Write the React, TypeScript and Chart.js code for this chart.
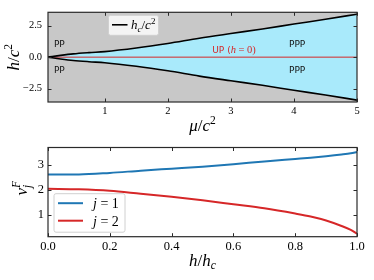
import React, { useEffect, useRef } from 'react';
import { Chart, registerables } from 'chart.js';
Chart.register(...registerables);

// ---------- data: top panel ----------
const muValues = [0.1, 0.3, 0.5, 0.75, 1.0, 1.5, 2.0, 2.5, 3.0, 3.5, 4.0, 4.5, 5.0];
const hcValues = [0.0, 0.14, 0.26, 0.36, 0.44, 0.72, 1.08, 1.5, 1.87, 2.23, 2.62, 3.0, 3.4];
const muTicks = [1, 2, 3, 4, 5];
const hTicks = [-2.5, 0, 2.5];
const muMin = 0.1;
const muMax = 5;
const hMin = -3.55;
const hMax = 3.55;
const regionLabels = [
  { text: 'PP', x: 0.28, y: 0.95 },
  { text: 'PP', x: 0.28, y: -1.03 },
  { text: 'PPP', x: 4.05, y: 0.95 },
  { text: 'PPP', x: 4.05, y: -1.03 },
];
const upLabel = { x: 3.05, y: 0.62 };

// ---------- data: bottom panel ----------
const hRatio = [0, 0.1, 0.2, 0.3, 0.4, 0.5, 0.6, 0.7, 0.8, 0.85, 0.9, 0.95, 0.98, 1.0];
const vF1 = [2.63, 2.63, 2.69, 2.78, 2.86, 2.94, 3.04, 3.15, 3.25, 3.3, 3.36, 3.43, 3.48, 3.53];
const vF2 = [2.05, 2.03, 1.97, 1.85, 1.73, 1.59, 1.43, 1.27, 1.06, 0.94, 0.78, 0.56, 0.4, 0.25];
const ratioTicks = [0, 0.2, 0.4, 0.6, 0.8, 1.0];
const vTicks = [1, 2, 3];
const vMin = 0.13;
const vMax = 3.71;

const SERIF = '"Liberation Serif", "DejaVu Serif", serif';
const SANS = '"DejaVu Sans", sans-serif';
const BLUE = '#1f77b4';
const RED = '#d62728';
const GRAY = '#c8c8c8';
const CYAN = '#a9eafb';

type Run = { t: string; size: number; italic?: boolean; dy?: number; dx?: number; family?: string; color?: string; noAdv?: boolean };

function fontOf(r: Run) {
  return `${r.italic ? 'italic ' : ''}${r.size}px ${r.family || SERIF}`;
}

function drawRuns(ctx: CanvasRenderingContext2D, runs: Run[], x: number, y: number, align: 'center' | 'left') {
  ctx.save();
  ctx.textAlign = 'left';
  ctx.textBaseline = 'alphabetic';
  let w = 0;
  for (const r of runs) {
    ctx.font = fontOf(r);
    if (!r.noAdv) w += ctx.measureText(r.t).width + (r.dx || 0);
  }
  let cx = align === 'center' ? x - w / 2 : x;
  for (const r of runs) {
    ctx.font = fontOf(r);
    ctx.fillStyle = r.color || '#000';
    ctx.fillText(r.t, cx + (r.dx || 0), y + (r.dy || 0));
    if (!r.noAdv) cx += ctx.measureText(r.t).width + (r.dx || 0);
  }
  ctx.restore();
}

function frameTicksPlugin(xTicks: number[], yTicks: number[]) {
  return {
    id: 'frameTicks',
    afterDraw(chart: any) {
      const { ctx, chartArea } = chart;
      const { left, right, top, bottom } = chartArea;
      const xs = chart.scales.x;
      const ys = chart.scales.y;
      ctx.save();
      ctx.strokeStyle = '#2a2a2a';
      ctx.lineWidth = 1;
      const L = 3.5;
      ctx.beginPath();
      for (const v of xTicks) {
        const p = Math.round(xs.getPixelForValue(v)) + 0.5;
        ctx.moveTo(p, bottom);
        ctx.lineTo(p, bottom - L);
        ctx.moveTo(p, top);
        ctx.lineTo(p, top + L);
      }
      for (const v of yTicks) {
        const p = Math.round(ys.getPixelForValue(v)) + 0.5;
        ctx.moveTo(left, p);
        ctx.lineTo(left + L, p);
        ctx.moveTo(right, p);
        ctx.lineTo(right - L, p);
      }
      ctx.stroke();
      ctx.lineWidth = 1.2;
      ctx.strokeRect(left, top, right - left, bottom - top);
      ctx.restore();
    },
  };
}

const fmtMinus = (s: string) => s.replace('-', '\u2212');

export default function App() {
  const topRef = useRef<HTMLCanvasElement>(null);
  const botRef = useRef<HTMLCanvasElement>(null);

  useEffect(() => {
    const upper = muValues.map((m, i) => ({ x: m, y: hcValues[i] }));
    const lower = muValues.map((m, i) => ({ x: m, y: -hcValues[i] }));
    const zero = [
      { x: muMin, y: 0 },
      { x: muMax, y: 0 },
    ];

    const topDecor = {
      id: 'topDecor',
      beforeDraw(chart: any) {
        const { ctx, chartArea } = chart;
        ctx.save();
        ctx.fillStyle = GRAY;
        ctx.fillRect(chartArea.left, chartArea.top, chartArea.right - chartArea.left, chartArea.bottom - chartArea.top);
        ctx.restore();
      },
      afterDraw(chart: any) {
        const { ctx, chartArea } = chart;
        const xs = chart.scales.x;
        const ys = chart.scales.y;
        // region labels
        ctx.save();
        ctx.font = `9px ${SANS}`;
        ctx.fillStyle = '#111';
        ctx.textAlign = 'center';
        ctx.textBaseline = 'middle';
        for (const l of regionLabels) {
          ctx.fillText(l.text, xs.getPixelForValue(l.x), ys.getPixelForValue(l.y));
        }
        ctx.restore();
        drawRuns(
          ctx,
          [
            { t: 'UP (', size: 9, family: SANS, color: RED },
            { t: 'h', size: 10.5, italic: true, color: RED },
            { t: ' = 0)', size: 10.5, color: RED },
          ],
          xs.getPixelForValue(upLabel.x),
          ys.getPixelForValue(upLabel.y) + 3.5,
          'center'
        );
        // legend
        const bx = chartArea.left + 60.5;
        const by = chartArea.top + 3;
        ctx.save();
        ctx.fillStyle = 'rgba(255,255,255,0.8)';
        ctx.strokeStyle = '#d0d0d0';
        ctx.lineWidth = 1;
        ctx.beginPath();
        (ctx as any).roundRect(bx, by, 50, 20, 2);
        ctx.fill();
        ctx.stroke();
        ctx.strokeStyle = '#000';
        ctx.lineWidth = 1.6;
        ctx.beginPath();
        ctx.moveTo(bx + 3.5, by + 9.5);
        ctx.lineTo(bx + 19, by + 9.5);
        ctx.stroke();
        ctx.restore();
        drawRuns(
          ctx,
          [
            { t: 'h', size: 13, italic: true },
            { t: 'c', size: 9, italic: true, dy: 2.5 },
            { t: '/', size: 13 },
            { t: 'c', size: 13, italic: true },
            { t: '2', size: 9, dy: -5 },
          ],
          bx + 22.5,
          by + 14,
          'left'
        );
        // axis titles
        drawRuns(
          ctx,
          [
            { t: 'μ', size: 17, italic: true },
            { t: '/', size: 17 },
            { t: 'c', size: 17, italic: true },
            { t: '2', size: 11.5, dy: -7 },
          ],
          (chartArea.left + chartArea.right) / 2,
          131,
          'center'
        );
        ctx.save();
        ctx.translate(19, (chartArea.top + chartArea.bottom) / 2);
        ctx.rotate(-Math.PI / 2);
        drawRuns(
          ctx,
          [
            { t: 'h', size: 17, italic: true },
            { t: '/', size: 17 },
            { t: 'c', size: 17, italic: true },
            { t: '2', size: 11.5, dy: -7 },
          ],
          0,
          0,
          'center'
        );
        ctx.restore();
      },
    };

    const c1 = new Chart(topRef.current!, {
      type: 'line',
      data: {
        datasets: [
          {
            data: upper,
            borderColor: '#000',
            borderWidth: 1.6,
            pointRadius: 0,
            cubicInterpolationMode: 'monotone',
            fill: '+1',
            backgroundColor: CYAN,
          },
          {
            data: lower,
            borderColor: '#000',
            borderWidth: 1.6,
            pointRadius: 0,
            cubicInterpolationMode: 'monotone',
            fill: false,
          },
          {
            data: zero,
            borderColor: RED,
            borderWidth: 1,
            pointRadius: 0,
            fill: false,
          },
        ],
      } as any,
      options: {
        animation: false,
        responsive: false,
        events: [],
        layout: { padding: { left: 0, right: 17, top: 8, bottom: 0 } },
        plugins: {
          legend: { display: false },
          tooltip: { enabled: false },
          filler: { drawTime: 'beforeDatasetsDraw' },
        } as any,
        scales: {
          x: {
            type: 'linear',
            min: muMin,
            max: muMax,
            afterBuildTicks: (s: any) => {
              s.ticks = muTicks.map((v) => ({ value: v }));
            },
            afterFit: (s: any) => {
              s.height = 38;
            },
            grid: { display: false, drawTicks: false },
            border: { display: false },
            ticks: {
              font: { family: SERIF, size: 10.5 },
              color: '#000',
              padding: 3,
              maxRotation: 0,
              autoSkip: false,
              callback: (v: any) => String(v),
            },
          },
          y: {
            type: 'linear',
            min: hMin,
            max: hMax,
            afterBuildTicks: (s: any) => {
              s.ticks = hTicks.map((v) => ({ value: v }));
            },
            afterFit: (s: any) => {
              s.width = 48;
            },
            grid: { display: false, drawTicks: false },
            border: { display: false },
            ticks: {
              font: { family: SERIF, size: 10.5 },
              color: '#000',
              padding: 6,
              autoSkip: false,
              callback: (v: any) => fmtMinus(Number(v).toFixed(1)),
            },
          },
        },
      } as any,
      plugins: [topDecor, frameTicksPlugin(muTicks, hTicks)],
    });

    const botDecor = {
      id: 'botDecor',
      afterDraw(chart: any) {
        const { ctx, chartArea } = chart;
        // legend
        const bx = chartArea.left + 6;
        const bh = 38.5;
        const by = chartArea.bottom - 4.5 - bh;
        ctx.save();
        ctx.fillStyle = 'rgba(255,255,255,0.8)';
        ctx.strokeStyle = '#d0d0d0';
        ctx.lineWidth = 1;
        ctx.beginPath();
        (ctx as any).roundRect(bx, by, 71, bh, 2);
        ctx.fill();
        ctx.stroke();
        const items = [
          { color: BLUE, label: '1', dy: 9.5 },
          { color: RED, label: '2', dy: 27 },
        ];
        for (const it of items) {
          ctx.strokeStyle = it.color;
          ctx.lineWidth = 2;
          ctx.beginPath();
          ctx.moveTo(bx + 4, by + it.dy);
          ctx.lineTo(bx + 29, by + it.dy);
          ctx.stroke();
        }
        ctx.restore();
        for (const it of items) {
          drawRuns(
            ctx,
            [
              { t: 'j', size: 14, italic: true },
              { t: ' = ' + it.label, size: 14 },
            ],
            bx + 39,
            by + it.dy + 5,
            'left'
          );
        }
        // axis titles
        drawRuns(
          ctx,
          [
            { t: 'h', size: 17, italic: true },
            { t: '/', size: 17 },
            { t: 'h', size: 17, italic: true },
            { t: 'c', size: 11.5, italic: true, dy: 3 },
          ],
          (chartArea.left + chartArea.right) / 2,
          130,
          'center'
        );
        ctx.save();
        ctx.translate(27, (chartArea.top + chartArea.bottom) / 2 - 2);
        ctx.rotate(-Math.PI / 2);
        drawRuns(
          ctx,
          [
            { t: 'v', size: 17, italic: true },
            { t: 'F', size: 11.5, italic: true, dy: -7, noAdv: true },
            { t: 'j', size: 11.5, italic: true, dy: 4 },
          ],
          0,
          0,
          'center'
        );
        ctx.restore();
      },
    };

    const c2 = new Chart(botRef.current!, {
      type: 'line',
      data: {
        datasets: [
          {
            data: hRatio.map((h, i) => ({ x: h, y: vF1[i] })),
            borderColor: BLUE,
            borderWidth: 2,
            pointRadius: 0,
            cubicInterpolationMode: 'monotone',
            fill: false,
          },
          {
            data: hRatio.map((h, i) => ({ x: h, y: vF2[i] })),
            borderColor: RED,
            borderWidth: 2,
            pointRadius: 0,
            cubicInterpolationMode: 'monotone',
            fill: false,
          },
        ],
      } as any,
      options: {
        animation: false,
        responsive: false,
        events: [],
        layout: { padding: { left: 0, right: 17, top: 8.3, bottom: 0 } },
        plugins: {
          legend: { display: false },
          tooltip: { enabled: false },
        },
        scales: {
          x: {
            type: 'linear',
            min: 0,
            max: 1,
            afterBuildTicks: (s: any) => {
              s.ticks = ratioTicks.map((v) => ({ value: v }));
            },
            afterFit: (s: any) => {
              s.height = 43.3;
            },
            grid: { display: false, drawTicks: false },
            border: { display: false },
            ticks: {
              font: { family: SERIF, size: 12.5 },
              color: '#000',
              padding: 3,
              maxRotation: 0,
              autoSkip: false,
              callback: (v: any) => Number(v).toFixed(1),
            },
          },
          y: {
            type: 'linear',
            min: vMin,
            max: vMax,
            afterBuildTicks: (s: any) => {
              s.ticks = vTicks.map((v) => ({ value: v }));
            },
            afterFit: (s: any) => {
              s.width = 48;
            },
            grid: { display: false, drawTicks: false },
            border: { display: false },
            ticks: {
              font: { family: SERIF, size: 12.5 },
              color: '#000',
              padding: 4,
              autoSkip: false,
              callback: (v: any) => String(v),
            },
          },
        },
      } as any,
      plugins: [botDecor, frameTicksPlugin(ratioTicks, vTicks)],
    });

    return () => {
      c1.destroy();
      c2.destroy();
    };
  }, []);

  return (
    <div style={{ position: 'fixed', left: 0, top: 0, width: 374, height: 280, background: '#fff' }}>
      <canvas
        ref={topRef}
        width={374}
        height={140}
        style={{ position: 'absolute', left: 0, top: 0, width: 374, height: 140 }}
      />
      <canvas
        ref={botRef}
        width={374}
        height={144}
        style={{ position: 'absolute', left: 0, top: 136, width: 374, height: 144 }}
      />
    </div>
  );
}
